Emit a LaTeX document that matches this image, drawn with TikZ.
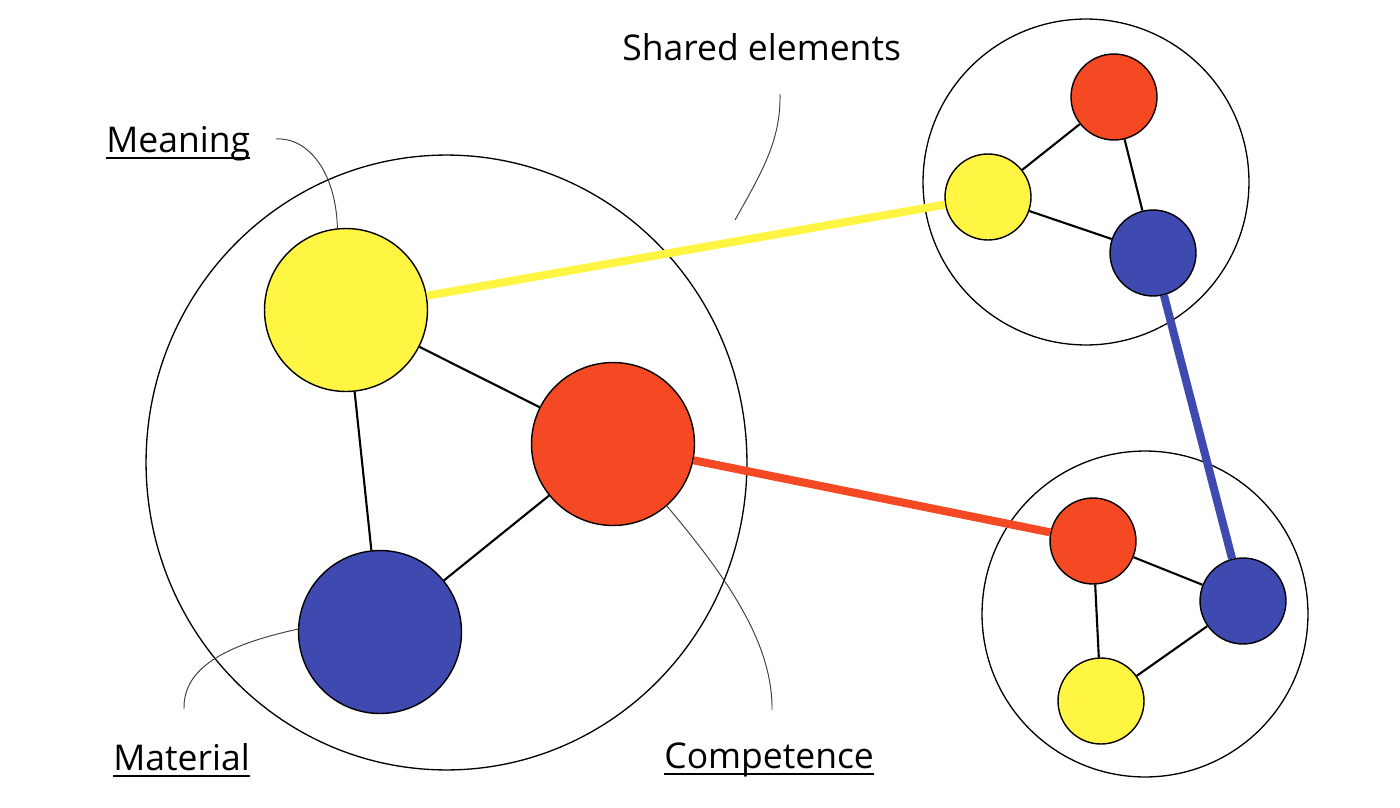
\documentclass[tikz,border=0pt]{standalone}
\usepackage{fontspec}
\usetikzlibrary{shapes.geometric}
\setmainfont{Open Sans}
\definecolor{cyel}{HTML}{FFF542}
\definecolor{cred}{HTML}{F44923}
\definecolor{cblu}{HTML}{3F4AB1}
\begin{document}
\begin{tikzpicture}[x=0.02cm,y=-0.02cm,
  dot/.style={circle,draw=black,line width=0.8pt,inner sep=0pt},
  bigdot/.style={dot,minimum size=3.26cm},
  smalldot/.style={dot,minimum size=1.72cm},
  ring/.style={circle,draw=black,line width=0.75pt,inner sep=0pt},
  link/.style={line width=1.2pt,black},
  yl/.style={line width=4.6pt,cyel},
  rl/.style={line width=4.6pt,cred},
  bl/.style={line width=4.6pt,cblu},
  leader/.style={line width=0.55pt,black!75},
  lbl/.style={inner sep=0pt,anchor=base west,font=\fontsize{20.2pt}{23pt}\selectfont}
]
\useasboundingbox (0,0) rectangle (1400,808);
% rings
\node[ellipse,draw=black,line width=0.75pt,inner sep=0pt,minimum width=12.02cm,minimum height=12.3cm] (R0) at (446.5,462.5) {};
\node[ring,minimum size=6.52cm] (R1) at (1086,182) {};
\node[ring,minimum size=6.52cm] (R2) at (1145,614) {};
% big cluster
\node[bigdot,fill=cyel] (Y) at (346,310) {};
\node[bigdot,fill=cred] (Rd) at (613,444) {};
\node[bigdot,fill=cblu] (B) at (380,632) {};
% top cluster
\node[smalldot,fill=cred] (Rt) at (1114,97) {};
\node[smalldot,fill=cyel] (Yt) at (988,197) {};
\node[smalldot,fill=cblu] (Bt) at (1153,253) {};
% bottom cluster
\node[smalldot,fill=cred] (Rb) at (1093,541) {};
\node[smalldot,fill=cblu] (Bb) at (1243,601) {};
\node[smalldot,fill=cyel] (Yb) at (1101,701) {};
% links
\draw[link] (Y) -- (Rd);
\draw[link] (Y) -- (B);
\draw[link] (Rd) -- (B);
\draw[link] (Yt) -- (Rt);
\draw[link] (Rt) -- (Bt);
\draw[link] (Yt) -- (Bt);
\draw[link] (Rb) -- (Bb);
\draw[link] (Rb) -- (Yb);
\draw[link] (Bb) -- (Yb);
% shared
\draw[yl] (Y) -- (Yt);
\draw[rl] (Rd) -- (Rb);
\draw[bl] (Bt) -- (Bb);
% labels
\node[lbl] (tM) at (106,152) {Meaning};
\node[lbl] (tS) at (622,60) {Shared elements};
\node[lbl] (tMa) at (113,770) {Material};
\node[lbl] (tC) at (664,768) {Competence};
\foreach \n in {tM,tMa,tC}{
  \draw[line width=1.1pt] ([yshift=-3.2pt]\n.base west) -- ([yshift=-3.2pt]\n.base east);
}
% leaders
\coordinate (lM) at (276,139);
\coordinate (lS1) at (780,94);
\coordinate (lS2) at (735,220);
\coordinate (lMa) at (184,709);
\coordinate (lC) at (772,710);
\draw[leader] (lM) .. controls (308,137) and (336,172) .. (Y.96);
\draw[leader] (lS1) .. controls (781,140) and (762,172) .. (lS2);
\draw[leader] (lMa) .. controls (183,668) and (225,645) .. (B.178);
\draw[leader] (Rd.-49) .. controls (722,572) and (773,640) .. (lC);
\end{tikzpicture}
\end{document}
